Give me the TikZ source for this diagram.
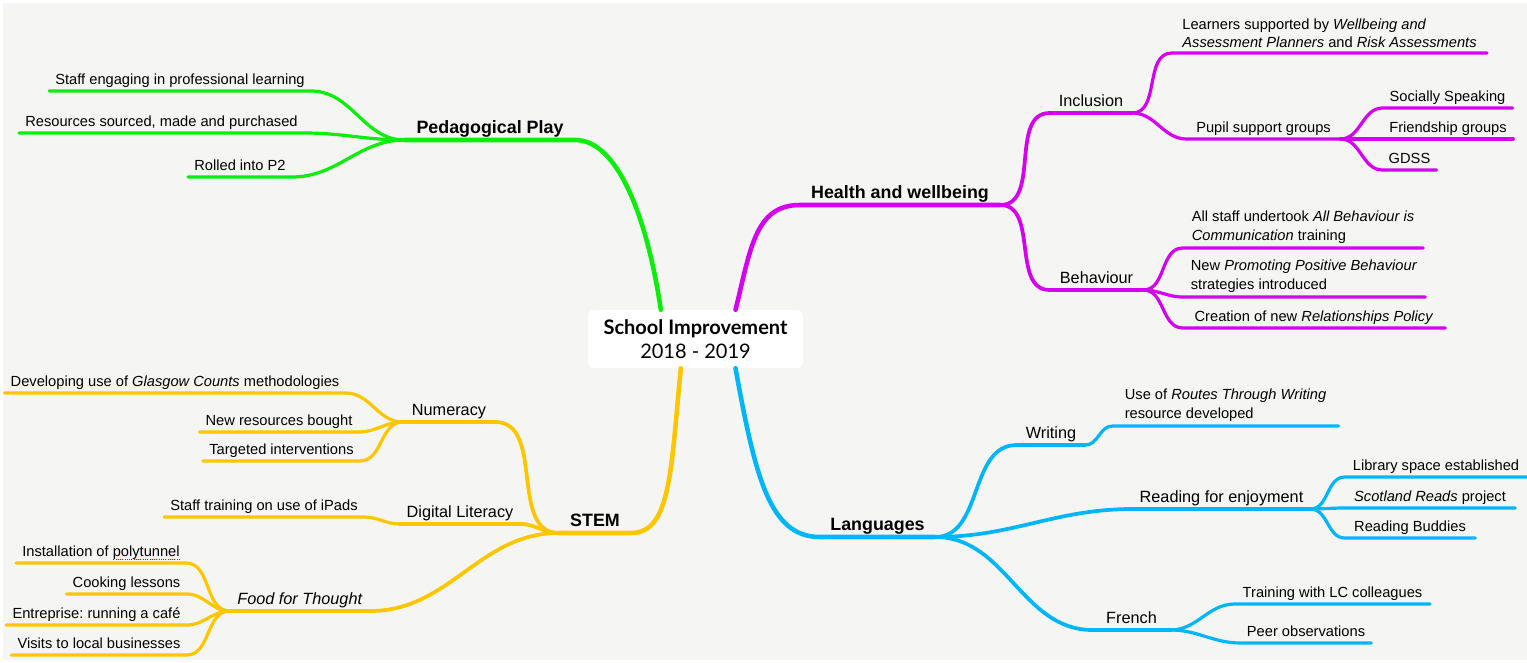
\documentclass[tikz,border=0pt]{standalone}
\usepackage{fontspec}
\setmainfont{Liberation Sans}
\newfontfamily\titlefont{Lato}
\frenchspacing
\definecolor{paper}{RGB}{245,246,244}
\definecolor{playgreen}{RGB}{10,238,10}
\definecolor{hwbpurple}{RGB}{214,0,240}
\definecolor{langblue}{RGB}{0,182,250}
\definecolor{stemyellow}{RGB}{255,198,0}

\begin{document}
\begin{tikzpicture}[
		x=0.75pt, y=-0.75pt,
		root/.style={fill=white, rounded corners=4pt, minimum width=161pt, minimum height=43.5pt, align=center, font=\titlefont\fontsize{15}{18}\selectfont},
		topic/.style={anchor=south, inner xsep=4.5pt, inner ysep=3pt, text depth=1.5pt, font=\bfseries\fontsize{13.4}{16}\selectfont},
		sub/.style={topic, font=\fontsize{12.2}{14}\selectfont},
		leaf/.style={topic, align=left, font=\fontsize{11}{14}\selectfont},
		multi/.style={leaf, text depth=, inner ysep=3.5pt},
		branch/.style={line width=3.4pt, line cap=round},
		twig/.style={line width=2.8pt, line cap=round},
		leafline/.style={line width=2.4pt, line cap=round},
	]
		\fill[white] (0,0) rectangle (1527,663);
		\fill[paper] (3,3) rectangle (1527,660);
		\useasboundingbox (0,0) rectangle (1527,663);

		\node[root] (school) at (695.5,339) {\textbf{School Improvement}\\2018 - 2019};

		% Pedagogical Play
		\node[topic, minimum width=127.5pt] (play) at (490,140) {Pedagogical Play};
		\node[leaf] (prof) at (180,91) {Staff engaging in professional learning};
		\node[leaf] (resources) at (161.5,133) {Resources sourced, made and purchased};
		\node[leaf] (ptwo) at (240,177) {Rolled into P2};

		% Health and wellbeing
		\node[topic, minimum width=150pt] (health) at (900,205) {Health and wellbeing};
		\node[sub, minimum width=61.5pt] (inclusion) at (1091,113) {Inclusion};
		\node[sub, minimum width=70pt] (behaviour) at (1096.5,290) {Behaviour};
		\node[multi, minimum width=236pt] (planners) at (1329.5,53) {Learners supported by \textit{Wellbeing and}\\\textit{Assessment Planners} and \textit{Risk Assessments}};
		\node[leaf, minimum width=115pt] (groups) at (1263.5,139) {Pupil support groups};
		\node[leaf, minimum width=97pt] (speaking) at (1447.5,108) {Socially Speaking};
		\node[leaf, minimum width=97.5pt] (friends) at (1448,139) {Friendship groups};
		\node[leaf, minimum width=40pt] (gdss) at (1409.5,170) {GDSS};
		\node[multi, minimum width=180pt] (abc) at (1303,248) {All staff undertook \textit{All Behaviour is}\\\textit{Communication} training};
		\node[multi, minimum width=181.5pt] (ppb) at (1304,297) {New \textit{Promoting Positive Behaviour}\\strategies introduced};
		\node[leaf, minimum width=196.5pt] (policy) at (1314,328) {Creation of new \textit{Relationships Policy}};

		% Languages
		\node[topic, minimum width=86pt] (lang) at (877.5,537) {Languages};
		\node[sub, minimum width=51pt] (writing) at (1051,445) {Writing};
		\node[multi, minimum width=169pt] (routes) at (1225.5,426) {Use of \textit{Routes Through Writing}\\resource developed};
		\node[sub, minimum width=133pt] (reading) at (1221.5,509) {Reading for enjoyment};
		\node[leaf, minimum width=136.5pt] (library) at (1436,477) {Library space established};
		\node[leaf, minimum width=127.5pt] (reads) at (1430,508) {\textit{Scotland Reads} project};
		\node[leaf, minimum width=97.5pt] (buddies) at (1410,538) {Reading Buddies};
		\node[sub, minimum width=58pt] (french) at (1131.5,630) {French};
		\node[leaf, minimum width=146pt] (lc) at (1332.5,604) {Training with LC colleagues};
		\node[leaf, minimum width=93pt] (peer) at (1306,643) {Peer observations};

		% STEM
		\node[topic, minimum width=54pt] (stem) at (595,533) {STEM};
		\node[sub, minimum width=69pt] (numeracy) at (449,422) {Numeracy};
		\node[sub, minimum width=90pt] (digital) at (460,524) {Digital Literacy};
		\node[sub, minimum width=105pt] (food) at (300,611) {\textit{Food for Thought}};
		\node[leaf] (counts) at (175,393) {Developing use of \textit{Glasgow Counts} methodologies};
		\node[leaf] (bought) at (279,432) {New resources bought};
		\node[leaf] (targeted) at (281.5,461) {Targeted interventions};
		\node[leaf] (ipads) at (264,517) {Staff training on use of iPads};
		\node[leaf] (tunnel) at (101,563) {Installation of polytunnel};
		\node[leaf] (cooking) at (126.5,594) {Cooking lessons};
		\node[leaf] (cafe) at (96.5,625) {Entreprise: running a café};
		\node[leaf] (visits) at (99,655) {Visits to local businesses};

		% main branches
		\draw[branch, playgreen] ([xshift=-26pt]school.north) .. controls +(-15,-100) and +(40,0) .. (play.south east) -- (play.south west);
		\draw[branch, hwbpurple] ([xshift=30pt]school.north) .. controls +(15,-60) and +(-45,0) .. (health.south west) -- (health.south east);
		\draw[branch, langblue] ([xshift=30pt]school.south) .. controls +(20,110) and +(-50,0) .. (lang.south west) -- (lang.south east);
		\draw[branch, stemyellow] ([xshift=-11pt]school.south) .. controls +(-10,100) and +(40,0) .. (stem.south east) -- (stem.south west);

		% left side
		\foreach \a/\b in {prof/play, resources/play, ptwo/play}
			\draw[leafline, playgreen] (\a.south west) -- (\a.south east) to[out=0, in=180] (\b.south west);
		\foreach \a/\b in {numeracy/stem, digital/stem, food/stem}
			\draw[twig, stemyellow] (\a.south west) -- (\a.south east) to[out=0, in=180] (\b.south west);
		\foreach \a/\b in {counts/numeracy, bought/numeracy, targeted/numeracy, ipads/digital, tunnel/food, cooking/food, cafe/food, visits/food}
			\draw[leafline, stemyellow] (\a.south west) -- (\a.south east) to[out=0, in=180] (\b.south west);
		\draw[red, densely dotted, line width=0.7pt] ([xshift=-4.5pt, yshift=3pt]tunnel.south east) -- ++(-67,0);

		% right side
		\foreach \a/\b in {health/inclusion, health/behaviour}
			\draw[twig, hwbpurple] (\a.south east) to[out=0, in=180] (\b.south west) -- (\b.south east);
		\foreach \a/\b in {inclusion/planners, inclusion/groups, groups/speaking, groups/friends, groups/gdss, behaviour/abc, behaviour/ppb, behaviour/policy}
			\draw[leafline, hwbpurple] (\a.south east) to[out=0, in=180] (\b.south west) -- (\b.south east);
		\foreach \a/\b in {lang/writing, lang/reading, lang/french}
			\draw[twig, langblue] (\a.south east) to[out=0, in=180] (\b.south west) -- (\b.south east);
		\foreach \a/\b in {writing/routes, reading/library, reading/reads, reading/buddies, french/lc, french/peer}
			\draw[leafline, langblue] (\a.south east) to[out=0, in=180] (\b.south west) -- (\b.south east);
	\end{tikzpicture}
\end{document}
